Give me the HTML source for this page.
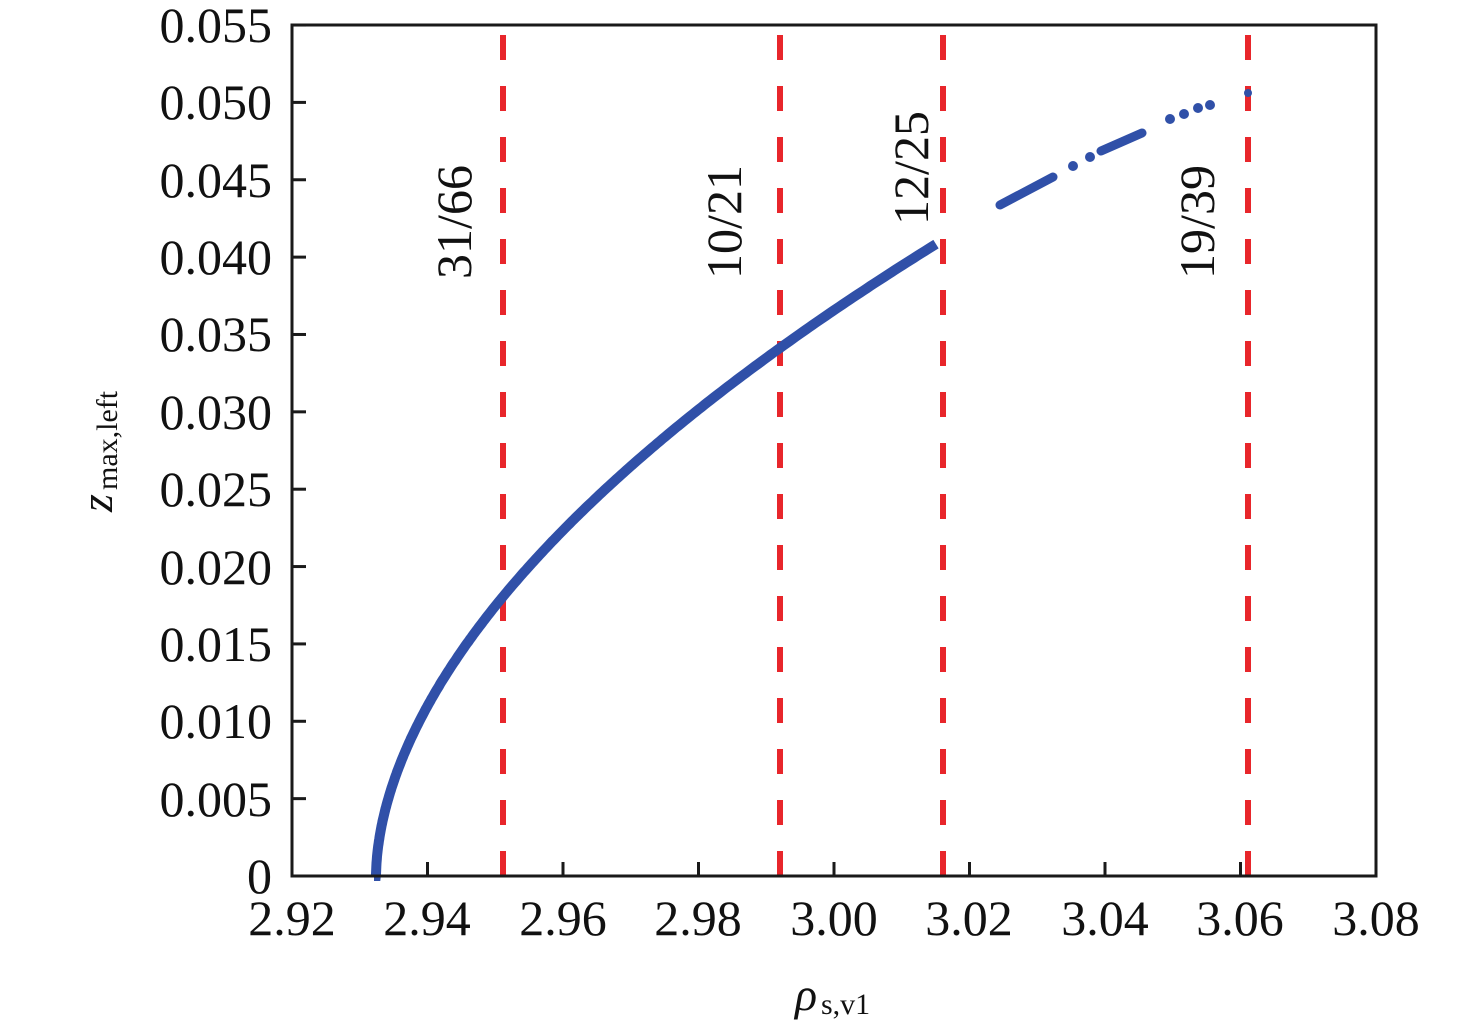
<!DOCTYPE html>
<html><head><style>
body{margin:0;background:#fff}
svg text{font-family:"Liberation Serif",serif;fill:#111}
</style></head><body>
<svg id="s" width="1476" height="1030" xmlns="http://www.w3.org/2000/svg">
<g font-size="50" text-anchor="end">
<text x="272" y="893">0</text>
<text x="272" y="816">0.005</text>
<text x="272" y="738">0.010</text>
<text x="272" y="661">0.015</text>
<text x="272" y="584">0.020</text>
<text x="272" y="506">0.025</text>
<text x="272" y="429">0.030</text>
<text x="272" y="351">0.035</text>
<text x="272" y="274">0.040</text>
<text x="272" y="197">0.045</text>
<text x="272" y="119">0.050</text>
<text x="272" y="42">0.055</text>
</g>
<g font-size="50" text-anchor="middle">
<text x="292" y="935">2.92</text>
<text x="427" y="935">2.94</text>
<text x="563" y="935">2.96</text>
<text x="698" y="935">2.98</text>
<text x="834" y="935">3.00</text>
<text x="969" y="935">3.02</text>
<text x="1105" y="935">3.04</text>
<text x="1240" y="935">3.06</text>
<text x="1376" y="935">3.08</text>
</g>
<text x="795" y="1010" font-size="46" font-style="italic">ρ</text><text x="821" y="1014" font-size="30">s,v1</text>
<g transform="translate(112,512) rotate(-90)"><text x="0" y="0" font-size="46" font-style="italic">z</text><text x="22" y="5" font-size="30">max,left</text></g>
<g stroke="#e8262b" stroke-width="6" stroke-dasharray="25,26">
<line x1="503" y1="35" x2="503" y2="876"/>
<line x1="780" y1="35" x2="780" y2="876"/>
<line x1="943" y1="35" x2="943" y2="876"/>
<line x1="1248" y1="35" x2="1248" y2="876"/>
</g>
<g font-size="50" text-anchor="middle">
<text transform="translate(471,222) rotate(-90)">31/66</text>
<text transform="translate(741,222) rotate(-90)">10/21</text>
<text transform="translate(928,168) rotate(-90)">12/25</text>
<text transform="translate(1214,222) rotate(-90)">19/39</text>
</g>
<path id="c" fill="none" stroke="#3050a8" stroke-width="10" stroke-linecap="butt"/>
<g stroke="#3050a8" stroke-width="9" stroke-linecap="round" fill="#3050a8">
<line x1="1000" y1="205" x2="1053" y2="177"/>
<line x1="1101" y1="151" x2="1142" y2="133"/>
</g>
<g fill="#3050a8">
<circle cx="1073" cy="166" r="5"/><circle cx="1090" cy="157" r="5"/>
<circle cx="1170" cy="119" r="5"/><circle cx="1184" cy="114" r="5"/>
<circle cx="1198" cy="108" r="5"/><circle cx="1210" cy="105" r="5"/>
<circle cx="1248" cy="93" r="4"/>
</g>
<rect x="292" y="25" width="1084" height="851" fill="none" stroke="#1a1a1a" stroke-width="3"/>
<g id="t" stroke="#1a1a1a" stroke-width="3"></g>
</svg>
<script>
var d="";
for(var i=0;i<=300;i++){var px=374+(936-374)*Math.pow(i/300,2);var r=(px-292)/135.5*0.02+2.92;var D=Math.max(r-2.9324,0);
var z=0.0341*Math.pow(D/0.0596,0.55);var y=876-z/0.005*77.4;d+=(i?"L":"M")+px.toFixed(1)+" "+y.toFixed(1);}
document.getElementById("c").setAttribute("d",d);
var t="";for(var k=0;k<=8;k++){var x=292+k*135.5;t+='<line x1="'+x+'" y1="876" x2="'+x+'" y2="862"/>';}
for(var k=0;k<=11;k++){var y=876-k*77.36;t+='<line x1="292" y1="'+y+'" x2="306" y2="'+y+'"/>';}
document.getElementById("t").innerHTML=t;
</script>
</body></html>
